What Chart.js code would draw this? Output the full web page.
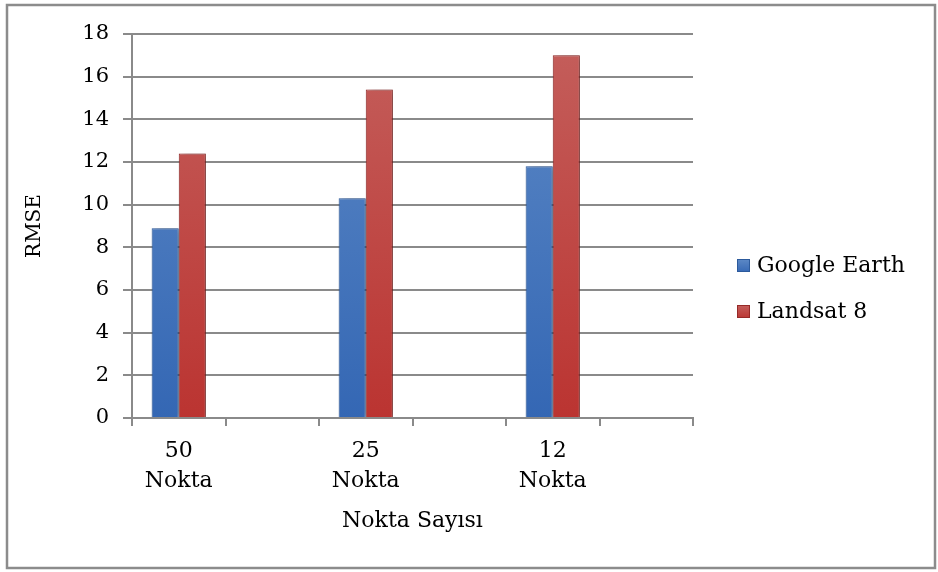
<!DOCTYPE html>
<html>
<head>
<meta charset="utf-8">
<script src="https://cdn.jsdelivr.net/npm/chart.js"></script>
<style>
  html, body { margin: 0; padding: 0; background: #fff; }
  #wrap { position: relative; width: 938px; height: 572px; }
</style>
</head>
<body>
<div id="wrap"><canvas id="chart" width="938" height="572"></canvas></div>
<script>
// Datos (categorias vacias entre los grupos)
const categories = [['50', 'Nokta'], '', ['25', 'Nokta'], '', ['12', 'Nokta'], ''];
const googleEarth = [8.9, null, 10.3, null, 11.8, null];
const landsat8 = [12.4, null, 15.4, null, 17.0, null];
const seriesNames = ['Google Earth', 'Landsat 8'];
const yTicks = [0, 2, 4, 6, 8, 10, 12, 14, 16, 18];

const FONT = "'DejaVu Serif', serif";
const GRID = '#8a8a8a';
const topColors = ['#5d89c6', '#c45f5c'];
const bottomColors = ['#3467b4', '#bb3431'];
const edgeColors = ['#2c5a9c', '#962a28'];

// degradado vertical para imitar las barras de Excel
function barFill(i) {
  return function(ctx) {
    const area = ctx.chart.chartArea;
    if (!area) return bottomColors[i];
    const g = ctx.chart.ctx.createLinearGradient(0, area.top, 0, area.bottom);
    g.addColorStop(0, topColors[i]);
    g.addColorStop(1, bottomColors[i]);
    return g;
  };
}

// marco gris exterior
const framePlugin = {
  id: 'frame',
  beforeDraw(chart) {
    const c = chart.ctx;
    c.save();
    c.fillStyle = '#fff';
    c.fillRect(0, 0, chart.width, chart.height);
    c.strokeStyle = '#8c8c8c';
    c.lineWidth = 2.5;
    c.strokeRect(7, 5, 928, 563);
    c.restore();
  }
};

// sombra suave detras de las barras
const shadowPlugin = {
  id: 'barShadow',
  beforeDatasetsDraw(chart) {
    const c = chart.ctx;
    c.save();
    c.shadowColor = 'rgba(0,0,0,0.35)';
    c.shadowBlur = 7;
    c.shadowOffsetX = 3;
    c.shadowOffsetY = 1;
  },
  afterDatasetsDraw(chart) {
    chart.ctx.restore();
  }
};

// leyenda a la derecha (la de Chart.js no deja el hueco que tiene el original)
const sideLegend = {
  id: 'sideLegend',
  afterDraw(chart) {
    const c = chart.ctx;
    const x = chart.chartArea.right + 44;
    let y = 266;
    c.save();
    c.font = '22px ' + FONT;
    c.textBaseline = 'middle';
    chart.data.datasets.forEach((ds, i) => {
      const g = c.createLinearGradient(0, y - 7, 0, y + 7);
      g.addColorStop(0, topColors[i]);
      g.addColorStop(1, bottomColors[i]);
      c.fillStyle = g;
      c.fillRect(x, y - 7, 13, 13);
      c.strokeStyle = edgeColors[i];
      c.lineWidth = 1;
      c.strokeRect(x + 0.5, y - 6.5, 12, 12);
      c.fillStyle = '#000';
      c.fillText(ds.label, x + 20, y);
      y += 46;
    });
    c.restore();
  }
};

new Chart(document.getElementById('chart'), {
  type: 'bar',
  data: {
    labels: categories,
    datasets: [
      {
        label: seriesNames[0],
        data: googleEarth,
        backgroundColor: barFill(0),
        borderColor: edgeColors[0],
        borderWidth: 1
      },
      {
        label: seriesNames[1],
        data: landsat8,
        backgroundColor: barFill(1),
        borderColor: edgeColors[1],
        borderWidth: 1
      }
    ]
  },
  options: {
    responsive: false,
    animation: false,
    devicePixelRatio: 1,
    layout: { padding: { top: 34, left: 20, bottom: 30, right: 245 } },
    datasets: { bar: { barPercentage: 1, categoryPercentage: 0.58 } },
    scales: {
      x: {
        grid: {
          display: true,
          drawOnChartArea: false,
          drawTicks: true,
          tickLength: 8,
          color: GRID,
          lineWidth: 2,
          offset: true
        },
        border: { color: GRID, width: 2 },
        ticks: {
          color: '#000',
          font: { family: FONT, size: 22, lineHeight: 1.38 },
          padding: 10,
          maxRotation: 0,
          autoSkip: false
        },
        title: {
          display: true,
          text: 'Nokta Sayısı',
          color: '#000',
          font: { family: FONT, size: 22 },
          padding: { top: 0, bottom: 8 }
        },
        afterFit(scale) { scale.height = 124; }
      },
      y: {
        min: 0,
        max: 18,
        afterBuildTicks(scale) { scale.ticks = yTicks.map(v => ({ value: v })); },
        grid: { color: GRID, lineWidth: 2, tickLength: 9 },
        border: { color: GRID, width: 2 },
        ticks: {
          color: '#000',
          font: { family: FONT, size: 21 },
          padding: 14
        },
        title: {
          display: true,
          text: 'RMSE',
          color: '#000',
          font: { family: FONT, size: 20 },
          padding: { top: 3, bottom: 0 }
        },
        afterFit(scale) { scale.width = 112; }
      }
    },
    plugins: {
      legend: { display: false },
      tooltip: { enabled: false }
    }
  },
  plugins: [framePlugin, shadowPlugin, sideLegend]
});
</script>
</body>
</html>
